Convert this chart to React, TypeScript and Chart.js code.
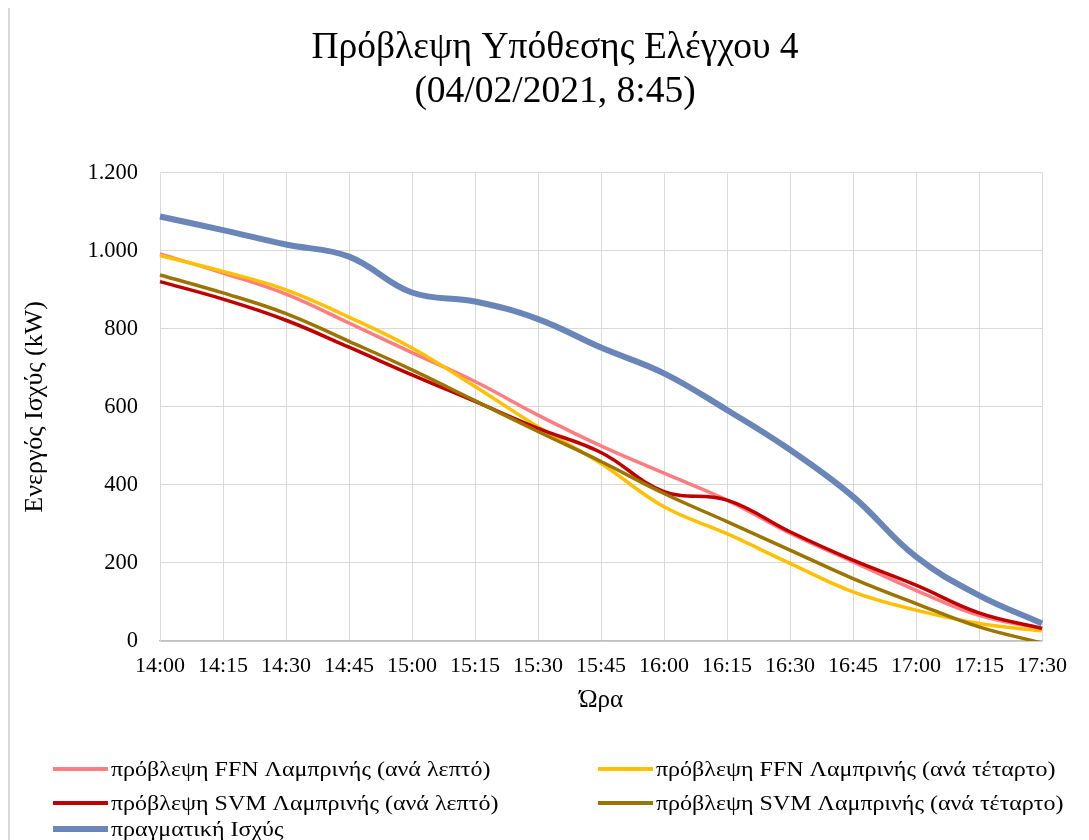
import React, { useEffect, useRef } from "react";
import { Chart, registerables } from "chart.js";

Chart.register(...registerables);

const timeLabels = [
  "14:00", "14:15", "14:30", "14:45", "15:00", "15:15", "15:30", "15:45",
  "16:00", "16:15", "16:30", "16:45", "17:00", "17:15", "17:30",
];

const ffnMinute = [992, 943, 889, 815, 739, 665, 579, 500, 430, 361, 276, 203, 130, 66, 32];
const ffnQuarter = [988, 947, 900, 830, 751, 652, 549, 455, 344, 275, 199, 126, 79, 45, 26];
const svmMinute = [921, 876, 822, 753, 682, 614, 545, 483, 383, 361, 280, 207, 143, 72, 32];
const svmQuarter = [938, 892, 839, 768, 695, 616, 537, 460, 378, 306, 233, 160, 96, 36, -5];
const actualPower = [1088, 1053, 1016, 985, 893, 870, 825, 752, 686, 592, 490, 370, 216, 117, 45];

const seriesNames = [
  "πρόβλεψη FFN Λαμπρινής (ανά λεπτό)",
  "πρόβλεψη FFN Λαμπρινής (ανά τέταρτο)",
  "πρόβλεψη SVM Λαμπρινής (ανά λεπτό)",
  "πρόβλεψη SVM Λαμπρινής (ανά τέταρτο)",
  "πραγματική Ισχύς",
];
const seriesData = [ffnMinute, ffnQuarter, svmMinute, svmQuarter, actualPower];
const seriesColors = ["#FF7C80", "#FFC000", "#C00000", "#9C7400", "#6A85B8"];
const seriesWidths = [3.5, 3.5, 3.5, 3.5, 6];

const titleLines = ["Πρόβλεψη Υπόθεσης Ελέγχου 4", "(04/02/2021, 8:45)"];
const yAxisTitle = "Ενεργός Ισχύς (kW)";
const xAxisTitle = "Ώρα";

const FONT = "'Liberation Serif', 'Times New Roman', serif";

// legend slots: left edge of the line sample and vertical centre (page px)
const legendSlots = [
  { left: 53, center: 769 },
  { left: 598, center: 769 },
  { left: 53, center: 803 },
  { left: 598, center: 803 },
  { left: 53, center: 829 },
];

function fmt(v: number) {
  return String(v).replace(/\B(?=(\d{3})+(?!\d))/g, ".");
}

export default function App() {
  const ref = useRef<HTMLCanvasElement>(null);

  useEffect(() => {
    document.documentElement.style.overflow = "hidden";
    const chart = new Chart(ref.current!, {
      type: "line",
      data: {
        labels: timeLabels,
        datasets: seriesData.map((d, i) => ({
          label: seriesNames[i],
          data: d,
          borderColor: seriesColors[i],
          backgroundColor: seriesColors[i],
          borderWidth: seriesWidths[i],
          pointRadius: 0,
          tension: 0.4,
          fill: false,
          order: seriesData.length - i,
        })),
      },
      options: {
        responsive: false,
        animation: false,
        devicePixelRatio: 1,
        layout: { padding: { left: 0, right: 0, top: 0, bottom: 119 } },
        plugins: {
          legend: { display: false },
          tooltip: { enabled: false },
          title: {
            display: true,
            text: titleLines,
            color: "#000",
            font: { family: FONT, size: 37.5, weight: "normal", lineHeight: 1.17 },
            padding: { top: 19, bottom: 59 },
          },
        },
        scales: {
          x: {
            offset: false,
            grid: { color: "#D9D9D9", lineWidth: 1, drawTicks: false },
            border: { color: "#BFBFBF", width: 1.5 },
            ticks: {
              autoSkip: false,
              maxRotation: 0,
              minRotation: 0,
              padding: 12,
              color: "#000",
              font: { family: FONT, size: 22 },
            },
            title: {
              display: true,
              text: xAxisTitle,
              color: "#000",
              font: { family: FONT, size: 25 },
              padding: { top: 0, bottom: 6 },
            },
            afterFit: (s: any) => {
              s.height = 80;
            },
          },
          y: {
            min: 0,
            max: 1200,
            grid: { color: "#D9D9D9", lineWidth: 1, drawTicks: false },
            border: { color: "#D9D9D9", width: 1 },
            ticks: {
              stepSize: 200,
              padding: 22,
              color: "#000",
              font: { family: FONT, size: 22.5 },
              callback: (v: any) => fmt(Number(v)),
            },
            title: {
              display: true,
              text: yAxisTitle,
              color: "#000",
              font: { family: FONT, size: 26 },
              padding: { top: 10, bottom: 0 },
            },
            afterFit: (s: any) => {
              s.width = 150;
            },
          },
          rightSpace: {
            type: "linear",
            position: "right",
            display: true,
            grid: { display: false, drawTicks: false },
            border: { display: false },
            ticks: { display: false },
            afterFit: (s: any) => {
              s.width = 58;
            },
          },
        },
      },
    });
    return () => chart.destroy();
  }, []);

  return (
    <div
      style={{
        position: "relative",
        width: 1079,
        height: 833,
        marginTop: -3,
        borderLeft: "2px solid #D9D9D9",
        borderTop: "2px solid #D9D9D9",
        overflow: "hidden",
        background: "#fff",
      }}
    >
      <canvas ref={ref} width={1090} height={833} style={{ display: "block" }} />
      {seriesNames.map((name, i) => (
        <div
          key={name}
          style={{
            position: "absolute",
            left: legendSlots[i].left - 10,
            top: legendSlots[i].center - 7 - 12,
            height: 24,
            display: "flex",
            alignItems: "center",
            fontFamily: FONT,
            fontSize: 20,
            lineHeight: "24px",
            color: "#000",
            whiteSpace: "nowrap",
          }}
        >
          <span
            style={{
              display: "inline-block",
              width: 55,
              height: i === 4 ? 6 : 4,
              background: seriesColors[i],
              marginRight: 3,
            }}
          />
          <span
            style={{
              display: "inline-block",
              transform: "scaleX(1.2)",
              transformOrigin: "left center",
            }}
          >
            {name}
          </span>
        </div>
      ))}
    </div>
  );
}
